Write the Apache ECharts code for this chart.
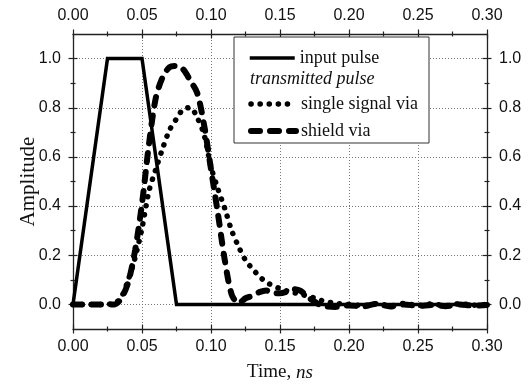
<!DOCTYPE html>
<html><head><meta charset="utf-8">
<script src="https://cdn.jsdelivr.net/npm/echarts@6/dist/echarts.min.js"></script>
<style>html,body{margin:0;padding:0;background:#fff}#c{width:528px;height:387px}</style>
</head><body><div id="c"></div>
<script>
// ---- data ----
const inputT = [0, 0.025, 0.05, 0.075, 0.30];
const inputV = [0, 1, 1, 0, 0];

const singleT = [0, 0.01, 0.02, 0.03, 0.035, 0.04, 0.045, 0.05, 0.055, 0.06, 0.065, 0.07, 0.075, 0.08, 0.085, 0.09, 0.095, 0.1, 0.105, 0.11, 0.115, 0.12, 0.125, 0.13, 0.135, 0.14, 0.145, 0.15, 0.155, 0.16, 0.165, 0.17, 0.175, 0.18, 0.185, 0.19, 0.2, 0.21, 0.22, 0.23, 0.24, 0.25, 0.26, 0.27, 0.28, 0.29, 0.3];
const singleV = [0, 0, 0, 0.005, 0.03, 0.10, 0.19, 0.31, 0.46, 0.55, 0.635, 0.71, 0.755, 0.795, 0.80, 0.76, 0.69, 0.56, 0.47, 0.39, 0.30, 0.235, 0.18, 0.145, 0.115, 0.09, 0.077, 0.064, 0.055, 0.048, 0.042, 0.034, 0.026, 0.016, 0.01, 0.004, 0.0, -0.005, 0.003, -0.006, 0.004, -0.004, 0.002, -0.005, 0.003, -0.003, 0.0];

const shieldT = [0, 0.01, 0.02, 0.03, 0.035, 0.04, 0.045, 0.05, 0.055, 0.06, 0.065, 0.07, 0.075, 0.08, 0.085, 0.09, 0.095, 0.1, 0.105, 0.11, 0.115, 0.12, 0.125, 0.13, 0.135, 0.14, 0.145, 0.15, 0.155, 0.16, 0.165, 0.17, 0.175, 0.18, 0.19, 0.2, 0.21, 0.22, 0.23, 0.24, 0.25, 0.26, 0.27, 0.28, 0.29, 0.3];
const shieldV = [0, 0, 0, 0, 0.025, 0.09, 0.22, 0.41, 0.65, 0.84, 0.925, 0.965, 0.97, 0.955, 0.91, 0.86, 0.73, 0.55, 0.37, 0.18, 0.04, 0.005, 0.025, 0.035, 0.05, 0.057, 0.045, 0.045, 0.052, 0.062, 0.055, 0.03, 0.012, -0.005, -0.01, -0.004, -0.008, 0.002, -0.008, 0, -0.006, -0.002, -0.007, 0, -0.005, -0.002];

const xMajor = [0, 0.05, 0.10, 0.15, 0.20, 0.25, 0.30];
const xMinor = [0.025, 0.075, 0.125, 0.175, 0.225, 0.275];
const yMajor = [0, 0.2, 0.4, 0.6, 0.8, 1.0];
const yMinor = [0.1, 0.3, 0.5, 0.7, 0.9];

const seriesNames = ['input pulse', 'single signal via', 'shield via'];
const legendHeader = 'transmitted pulse';
const xTitle = 'Time, {i|ns}';
const yTitle = 'Amplitude';

// ---- chart ----
const zip = (t, v) => t.map((x, i) => [x, v[i]]);
const SANS = "'Liberation Sans', Arial, sans-serif";
const SERIF = "'Liberation Serif', 'Times New Roman', serif";
const AX = '#222';

const styles = [
  { color: '#000', width: 3.5, type: 'solid', join: 'miter' },
  { color: '#000', width: 5.5, type: [0.1, 9], cap: 'round' },
  { color: '#000', width: 6, type: [9, 10], cap: 'round' }
];

function labelAxis(pos, isX) {
  return {
    type: 'value', position: pos,
    min: isX ? 0 : -0.1, max: isX ? 0.3 : 1.1,
    axisLine: { show: true, onZero: false, lineStyle: { color: AX, width: 1.3 } },
    axisTick: { show: false, customValues: isX ? xMajor : yMajor },
    axisLabel: { show: true, customValues: isX ? xMajor : yMajor, margin: isX ? 10 : 12,
      color: '#111', fontFamily: SANS, fontSize: 16,
      formatter: v => isX ? v.toFixed(2) : v.toFixed(1) },
    splitLine: { show: false }
  };
}
function tickAxis(pos, isX, values, len) {
  return {
    type: 'value', position: pos, offset: -len / 2,
    min: isX ? 0 : -0.1, max: isX ? 0.3 : 1.1,
    axisLine: { show: false, onZero: false },
    axisTick: { show: true, customValues: values, length: len, lineStyle: { color: AX, width: 1.2 } },
    axisLabel: { show: false },
    splitLine: { show: false }
  };
}

const xb = labelAxis('bottom', true);
xb.splitLine = { show: true, lineStyle: { color: '#777', type: [1, 2], width: 1 } };
xb.name = xTitle; xb.nameLocation = 'middle'; xb.nameGap = 34; xb.nameMoveOverlap = false;
xb.nameTextStyle = { fontFamily: SERIF, fontSize: 19, color: '#111',
  rich: { i: { fontFamily: SERIF, fontSize: 19, fontStyle: 'italic', color: '#111' } } };
const yl = labelAxis('left', false);
yl.splitLine = { show: true, lineStyle: { color: '#777', type: [1, 2], width: 1 } };
yl.name = yTitle; yl.nameLocation = 'middle'; yl.nameGap = 34; yl.nameMoveOverlap = false;
yl.nameTextStyle = { fontFamily: SERIF, fontSize: 21, color: '#111' };

const legText = { fontFamily: SERIF, fontSize: 18, color: '#111' };
const legItem = i => ({ name: seriesNames[i], lineStyle: styles[i] });
const chart = echarts.init(document.getElementById('c'), null, { renderer: 'canvas' });
chart.setOption({
  animation: false,
  backgroundColor: '#fff',
  grid: { left: 73, right: 41, top: 34, bottom: 47, containLabel: false },
  xAxis: [
    xb,
    labelAxis('top', true),
    tickAxis('bottom', true, xMajor, 9), tickAxis('bottom', true, xMinor, 5),
    tickAxis('top', true, xMajor, 9), tickAxis('top', true, xMinor, 5)
  ],
  yAxis: [
    yl,
    labelAxis('right', false),
    tickAxis('left', false, yMajor, 9), tickAxis('left', false, yMinor, 5),
    tickAxis('right', false, yMajor, 9), tickAxis('right', false, yMinor, 5)
  ],
  legend: [
    { data: [legItem(0)], left: 248, top: 49, itemWidth: 45, itemHeight: 14, z: 6,
      itemStyle: { opacity: 0 }, textStyle: legText, padding: 0 },
    { data: [legItem(1), legItem(2)], orient: 'vertical', left: 248, top: 95,
      itemWidth: 45, itemHeight: 14, itemGap: 9, z: 6,
      itemStyle: { opacity: 0 }, textStyle: legText, padding: 0 }
  ],
  graphic: [
    { type: 'rect', z: 4, shape: { x: 234, y: 37, width: 195, height: 106 },
      style: { fill: '#fff', stroke: '#333', lineWidth: 1 } },
    { type: 'text', z: 6, left: 250, top: 70,
      style: { text: legendHeader, fontFamily: SERIF, fontSize: 18, fontStyle: 'italic', fill: '#111' } }
  ],
  series: [
    { name: seriesNames[0], type: 'line', data: zip(inputT, inputV), showSymbol: false, symbol: 'none',
      lineStyle: styles[0], itemStyle: { color: '#000' } },
    { name: seriesNames[1], type: 'line', data: zip(singleT, singleV), showSymbol: false, symbol: 'none', smooth: 0.3,
      lineStyle: styles[1], itemStyle: { color: '#000' } },
    { name: seriesNames[2], type: 'line', data: zip(shieldT, shieldV), showSymbol: false, symbol: 'none', smooth: 0.3,
      lineStyle: styles[2], itemStyle: { color: '#000' } }
  ]
});
</script>
</body></html>
